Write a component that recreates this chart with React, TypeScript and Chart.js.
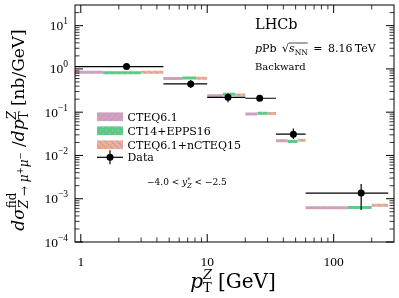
import React, { useEffect, useRef } from 'react';
import { Chart, registerables } from 'chart.js';

Chart.register(...registerables);

// ---------- data ----------
const binLow = [0, 4.5, 10, 20, 35, 60];
const binHigh = [4.5, 10, 20, 35, 60, 270];
const dataX = [2.3, 7.4, 14.6, 26, 48, 165];
const dataY = [1.13, 0.45, 0.22, 0.21, 0.031, 0.00135];
const dataYLow = [1.04, 0.36, 0.17, 0.18, 0.024, 0.00055];
const dataYHigh = [1.23, 0.55, 0.27, 0.245, 0.042, 0.0022];
const subEdges = [
  [0, 1.5, 3, 4.5],
  [4.5, 6.33, 8.17, 10],
  [10, 13.33, 16.67, 20],
  [20, 25, 30, 35],
  [35, 43.33, 51.67, 60],
  [60, 130, 200, 270],
];
const cteq61 = [0.84, 0.6, 0.24, 0.091, 0.022, 0.00062];
const ct14epps16 = [0.82, 0.62, 0.26, 0.094, 0.021, 0.00063];
const cteq61ncteq15 = [0.84, 0.61, 0.25, 0.093, 0.0226, 0.00071];
const modelNames = ['CTEQ6.1', 'CT14+EPPS16', 'CTEQ6.1+nCTEQ15'];
const xMajorTicks = [1, 10, 100];
const xTickLabels = ['1', '10', '100'];
const yMajorExponents = [-4, -3, -2, -1, 0, 1];

const SERIF = '"DejaVu Serif", serif';
const TICKF = '"Liberation Serif", serif';

type Run = { t: string; size: number; italic?: boolean; dy?: number; noAdv?: boolean; bar?: number; fam?: string };

function fontOf(r: Run) {
  return `${r.italic ? 'italic ' : ''}${r.size}px ${r.fam || SERIF}`;
}
function runsWidth(ctx: CanvasRenderingContext2D, runs: Run[]) {
  let w = 0;
  for (const r of runs) {
    ctx.font = fontOf(r);
    if (!r.noAdv) w += ctx.measureText(r.t).width;
  }
  return w;
}
function drawRuns(ctx: CanvasRenderingContext2D, runs: Run[], x: number, y: number) {
  let cx = x;
  for (const r of runs) {
    ctx.font = fontOf(r);
    const w = ctx.measureText(r.t).width;
    ctx.fillText(r.t, cx, y + (r.dy || 0));
    if (r.bar !== undefined) {
      ctx.save();
      ctx.lineWidth = 0.7;
      ctx.beginPath();
      ctx.moveTo(cx, y + r.bar);
      ctx.lineTo(cx + w, y + r.bar);
      ctx.stroke();
      ctx.restore();
    }
    if (!r.noAdv) cx += w;
  }
  return cx - x;
}

function makePattern(base: string, stripe: string, kind: string) {
  const s = 6;
  const c = document.createElement('canvas');
  c.width = s;
  c.height = s;
  const g = c.getContext('2d')!;
  g.fillStyle = base;
  g.fillRect(0, 0, s, s);
  if (kind === 'dots') {
    g.fillStyle = stripe;
    g.fillRect(1, 1, 1, 1);
    g.fillRect(4, 4, 1, 1);
  } else {
    g.strokeStyle = stripe;
    g.lineWidth = 1.7;
    g.beginPath();
    for (const o of [-s, 0, s]) {
      if (kind === '/') {
        g.moveTo(o, s);
        g.lineTo(o + s, 0);
      } else {
        g.moveTo(o, 0);
        g.lineTo(o + s, s);
      }
    }
    g.stroke();
  }
  return g.createPattern(c, 'repeat')!;
}

export default function App() {
  const ref = useRef<HTMLCanvasElement>(null);

  useEffect(() => {
    const canvas = ref.current!;
    const patterns = [
      makePattern('#b7a3dc', '#f29e8a', '/'),
      makePattern('#5fc886', '#86d9a4', 'dots'),
      makePattern('#fbb077', '#bba3d6', '\\'),
    ];
    const models = [cteq61, ct14epps16, cteq61ncteq15];

    const theorySets: any[] = models.map((vals, m) => {
      const pts: any[] = [];
      subEdges.forEach((e, i) => {
        pts.push({ x: e[m], y: vals[i] }, { x: e[m + 1], y: vals[i] }, { x: e[m + 1], y: null });
      });
      return {
        type: 'line',
        label: modelNames[m],
        data: pts,
        borderColor: patterns[m],
        backgroundColor: patterns[m],
        borderWidth: 3,
        borderCapStyle: 'butt',
        pointRadius: 0,
        showLine: true,
        spanGaps: false,
        fill: false,
        tension: 0,
        order: 2 + m,
      };
    });

    const errPts: any[] = [];
    dataX.forEach((x, i) => {
      errPts.push({ x: binLow[i], y: dataY[i] }, { x: binHigh[i], y: dataY[i] }, { x: binHigh[i], y: null });
      errPts.push({ x, y: dataYLow[i] }, { x, y: dataYHigh[i] }, { x, y: null });
    });

    const deco = {
      id: 'deco',
      afterDraw(chart: any) {
        const { ctx, chartArea: a } = chart;
        const xs = chart.scales.x;
        const ys = chart.scales.y;
        ctx.save();
        ctx.fillStyle = '#000';
        ctx.strokeStyle = '#000';
        // frame
        ctx.lineWidth = 1;
        ctx.strokeRect(a.left, a.top, a.right - a.left, a.bottom - a.top);
        const line = (x1: number, y1: number, x2: number, y2: number, w: number) => {
          ctx.lineWidth = w;
          ctx.beginPath();
          ctx.moveTo(x1, y1);
          ctx.lineTo(x2, y2);
          ctx.stroke();
        };
        // x ticks
        for (const d of [0.1, 1, 10, 100]) {
          for (let k = 1; k <= 9; k++) {
            const v = k * d;
            if (v <= xs.min * 1.0001 || v >= xs.max * 0.9999) continue;
            const px = xs.getPixelForValue(v);
            const len = k === 1 ? 8 : 4.5;
            const w = k === 1 ? 1 : 0.8;
            line(px, a.bottom, px, a.bottom - len, w);
            line(px, a.top, px, a.top + len, w);
          }
        }
        // y ticks
        for (let e = -4; e <= 1; e++) {
          for (let k = 1; k <= 9; k++) {
            const v = k * Math.pow(10, e);
            if (v < ys.min * 0.9999 || v >= ys.max * 0.9999) continue;
            const py = ys.getPixelForValue(v);
            const len = k === 1 ? 8 : 4.5;
            const w = k === 1 ? 1 : 0.8;
            line(a.left, py, a.left + len, py, w);
            line(a.right, py, a.right - len, py, w);
          }
        }
        // x tick labels
        ctx.textAlign = 'center';
        ctx.font = `13.5px ${TICKF}`;
        xMajorTicks.forEach((v, i) => {
          ctx.fillText(xTickLabels[i], xs.getPixelForValue(v), 266);
        });
        ctx.textAlign = 'left';
        // y tick labels
        yMajorExponents.forEach((e) => {
          const py = ys.getPixelForValue(Math.pow(10, e));
          const exp = e < 0 ? '\u2212' + Math.abs(e) : String(e);
          ctx.font = `9.5px ${TICKF}`;
          const ew = ctx.measureText(exp).width;
          ctx.font = `13.5px ${TICKF}`;
          const bw = ctx.measureText('10').width;
          const right = 68;
          ctx.fillText('10', right - ew - bw, py + 4.5);
          ctx.font = `9.5px ${TICKF}`;
          ctx.fillText(exp, right - ew, py - 1.5);
        });
        // x title
        const xt: Run[] = [
          { t: 'p', size: 20, italic: true },
          { t: 'Z', size: 13, italic: true, dy: -9, noAdv: true },
          { t: 'T', size: 13, dy: 4 },
          { t: ' [GeV]', size: 20 },
        ];
        const xw = runsWidth(ctx, xt);
        drawRuns(ctx, xt, 233 - xw / 2, 288);
        // y title
        const yt: Run[] = [
          { t: 'd\u03c3', size: 17, italic: true },
          { t: 'fid', size: 12, dy: -8, noAdv: true },
          { t: 'Z', size: 12, italic: true, dy: 4 },
          { t: ' \u2192 ', size: 12, dy: 4 },
          { t: '\u03bc', size: 12, italic: true, dy: 4 },
          { t: '+', size: 8.5, dy: -1 },
          { t: '\u03bc', size: 12, italic: true, dy: 4 },
          { t: '\u2212', size: 8.5, dy: -1 },
          { t: ' /', size: 17 },
          { t: 'dp', size: 17, italic: true },
          { t: 'Z', size: 12, italic: true, dy: -8, noAdv: true },
          { t: 'T', size: 12, dy: 4 },
          { t: ' [nb/GeV]', size: 17 },
        ];
        const yw = runsWidth(ctx, yt);
        ctx.save();
        ctx.translate(24, 130);
        ctx.rotate(-Math.PI / 2);
        drawRuns(ctx, yt, -yw / 2, 0);
        ctx.restore();
        // annotations
        ctx.font = `14.5px ${SERIF}`;
        ctx.fillText('LHCb', 255, 28.5);
        drawRuns(
          ctx,
          [
            { t: 'p', size: 11, italic: true },
            { t: 'Pb\u2002', size: 11 },
            { t: '\u221a', size: 11 },
            { t: 's', size: 11, italic: true, bar: -9 },
            { t: 'NN', size: 7.5, dy: 2.5, bar: -9 },
            { t: '\u2002=\u20028.16\u2009TeV', size: 11 },
          ],
          255,
          52
        );
        ctx.font = `10px ${SERIF}`;
        ctx.fillText('Backward', 255, 70);
        drawRuns(
          ctx,
          [
            { t: '\u22124.0 < ', size: 9 },
            { t: 'y', size: 9, italic: true },
            { t: '*', size: 6.5, dy: -3.5, noAdv: true },
            { t: 'Z', size: 6.5, italic: true, dy: 2.5 },
            { t: ' < \u22122.5', size: 9 },
          ],
          147,
          185
        );
        // legend
        const rows = [116.7, 130.7, 144.7];
        rows.forEach((cy, i) => {
          ctx.fillStyle = patterns[i];
          ctx.fillRect(97, cy - 4.3, 26, 8.7);
          ctx.fillStyle = '#000';
          ctx.font = `11px ${SERIF}`;
          ctx.fillText(modelNames[i], 127.5, cy + 4);
        });
        const dy = 157.3;
        line(97, dy, 123, dy, 1.2);
        line(110, dy - 7, 110, dy + 7, 1.2);
        ctx.beginPath();
        ctx.arc(110, dy, 3.5, 0, Math.PI * 2);
        ctx.fill();
        ctx.font = `11px ${SERIF}`;
        ctx.fillText('Data', 127.5, dy + 4);
        ctx.restore();
      },
    };

    const chart = new Chart(canvas, {
      type: 'line',
      data: {
        datasets: [
          {
            type: 'line',
            label: 'Data',
            data: dataX.map((x, i) => ({ x, y: dataY[i] })),
            showLine: false,
            pointRadius: 3.5,
            pointBackgroundColor: '#000',
            pointBorderWidth: 0,
            order: 0,
          } as any,
          {
            type: 'line',
            label: 'Data errors',
            data: errPts,
            borderColor: '#000',
            borderWidth: 1.2,
            pointRadius: 0,
            showLine: true,
            spanGaps: false,
            fill: false,
            tension: 0,
            order: 1,
          } as any,
          ...theorySets,
        ],
      },
      options: {
        animation: false,
        responsive: false,
        devicePixelRatio: 1,
        events: [],
        layout: { padding: { left: 75, right: 5, top: 5, bottom: 56 } },
        plugins: { legend: { display: false }, tooltip: { enabled: false } },
        scales: {
          x: {
            type: 'logarithmic',
            min: 0.9,
            max: 300,
            ticks: { display: false },
            grid: { display: false, drawTicks: false },
            border: { display: false },
          },
          y: {
            type: 'logarithmic',
            min: 1e-4,
            max: 30,
            ticks: { display: false },
            grid: { display: false, drawTicks: false },
            border: { display: false },
          },
        },
      } as any,
      plugins: [deco],
    });
    return () => chart.destroy();
  }, []);

  return (
    <div style={{ position: 'fixed', left: 0, top: 0, width: 399, height: 298, background: '#fff' }}>
      <canvas ref={ref} width={399} height={298} style={{ display: 'block' }} />
    </div>
  );
}
